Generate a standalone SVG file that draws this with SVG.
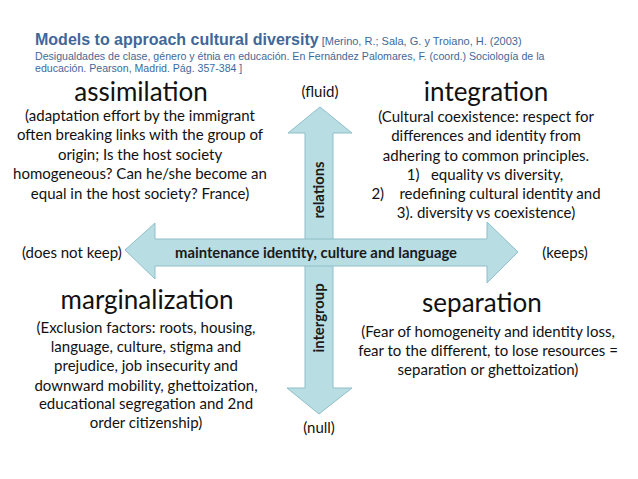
<svg xmlns="http://www.w3.org/2000/svg" width="638" height="479" viewBox="0 0 638 479">
<style>
.ttl{font-family:"Liberation Sans",Arial,sans-serif;fill:#3f6898}
.h{font-family:Lato,"Liberation Sans",sans-serif;font-size:26px;fill:#111;text-anchor:middle}
.b{font-family:Lato,"Liberation Sans",sans-serif;font-size:15px;fill:#111;text-anchor:middle}
.lb{font-family:Lato,"Liberation Sans",sans-serif;font-size:15px;fill:#111}
.ax{font-family:Lato,"Liberation Sans",sans-serif;font-size:14.8px;font-weight:bold;fill:#1a1a1a;text-anchor:middle}
.arr{fill:#b8dde3;stroke:#8fbfc8;stroke-width:1}
</style>
<rect width="638" height="479" fill="#ffffff"/>
<g id="title">
<text class="ttl" x="35" y="45"><tspan font-size="16" font-weight="bold">Models to approach cultural diversity</tspan><tspan font-size="11"> [Merino, R.; Sala, G. y Troiano, H. (2003)</tspan></text>
<text class="ttl" x="35" y="60" font-size="10.6">Desigualdades de clase, género y étnia en educación. En Fernández Palomares, F. (coord.) Sociología de la</text>
<text class="ttl" x="35" y="72" font-size="10.6">educación. Pearson, Madrid. Pág. 357-384 ]</text>
</g>
<g id="connectors">
<polygon id="vertical-arrow" class="arr" points="320,107 352,133 333,133 333,388 352,388 319,414 287,388 305,388 305,133 288,133"/>
<polygon id="horizontal-arrow" class="arr" points="125,250 155,223 155,239 487,239 487,222 518,252 487,283 487,266 155,266 155,279"/>
<text class="ax" x="316" y="258">maintenance identity, culture and language</text>
<text class="ax" transform="translate(324,190) rotate(-90)">relations</text>
<text class="ax" transform="translate(324,318) rotate(-90)">intergroup</text>
</g>
<g id="axis-labels">
<text class="b" x="320" y="97">(fluid)</text>
<text class="b" x="319" y="433">(null)</text>
<text class="lb" x="22" y="258">(does not keep)</text>
<text class="b" x="565" y="258">(keeps)</text>
</g>
<g id="assimilation">
<text class="h" x="141" y="101">assimilation</text>
<text class="b" x="140" y="121">(adaptation effort by the immigrant</text>
<text class="b" x="140" y="140">often breaking links with the group of</text>
<text class="b" x="140" y="160">origin; Is the host society</text>
<text class="b" x="140" y="179">homogeneous? Can he/she become an</text>
<text class="b" x="140" y="199">equal in the host society? France)</text>
</g>
<g id="integration">
<text class="h" x="486" y="101">integration</text>
<text class="b" x="486" y="122">(Cultural coexistence: respect for</text>
<text class="b" x="486" y="141">differences and identity from</text>
<text class="b" x="486" y="161">adhering to common principles.</text>
<text class="b" x="485" y="180" xml:space="preserve">1)   equality vs diversity,</text>
<text class="b" x="486" y="199" xml:space="preserve">2)    redefining cultural identity and</text>
<text class="b" x="486" y="218">3). diversity vs coexistence)</text>
</g>
<g id="marginalization">
<text class="h" x="147" y="309">marginalization</text>
<text class="b" x="146" y="333">(Exclusion factors: roots, housing,</text>
<text class="b" x="146" y="352">language, culture, stigma and</text>
<text class="b" x="146" y="371">prejudice, job insecurity and</text>
<text class="b" x="146" y="391">downward mobility, ghettoization,</text>
<text class="b" x="146" y="409">educational segregation and 2nd</text>
<text class="b" x="146" y="428">order citizenship)</text>
</g>
<g id="separation">
<text class="h" x="482" y="312">separation</text>
<text class="b" x="488" y="337">(Fear of homogeneity and identity loss,</text>
<text class="b" x="488" y="356">fear to the different, to lose resources =</text>
<text class="b" x="488" y="375">separation or ghettoization)</text>
</g>
</svg>
